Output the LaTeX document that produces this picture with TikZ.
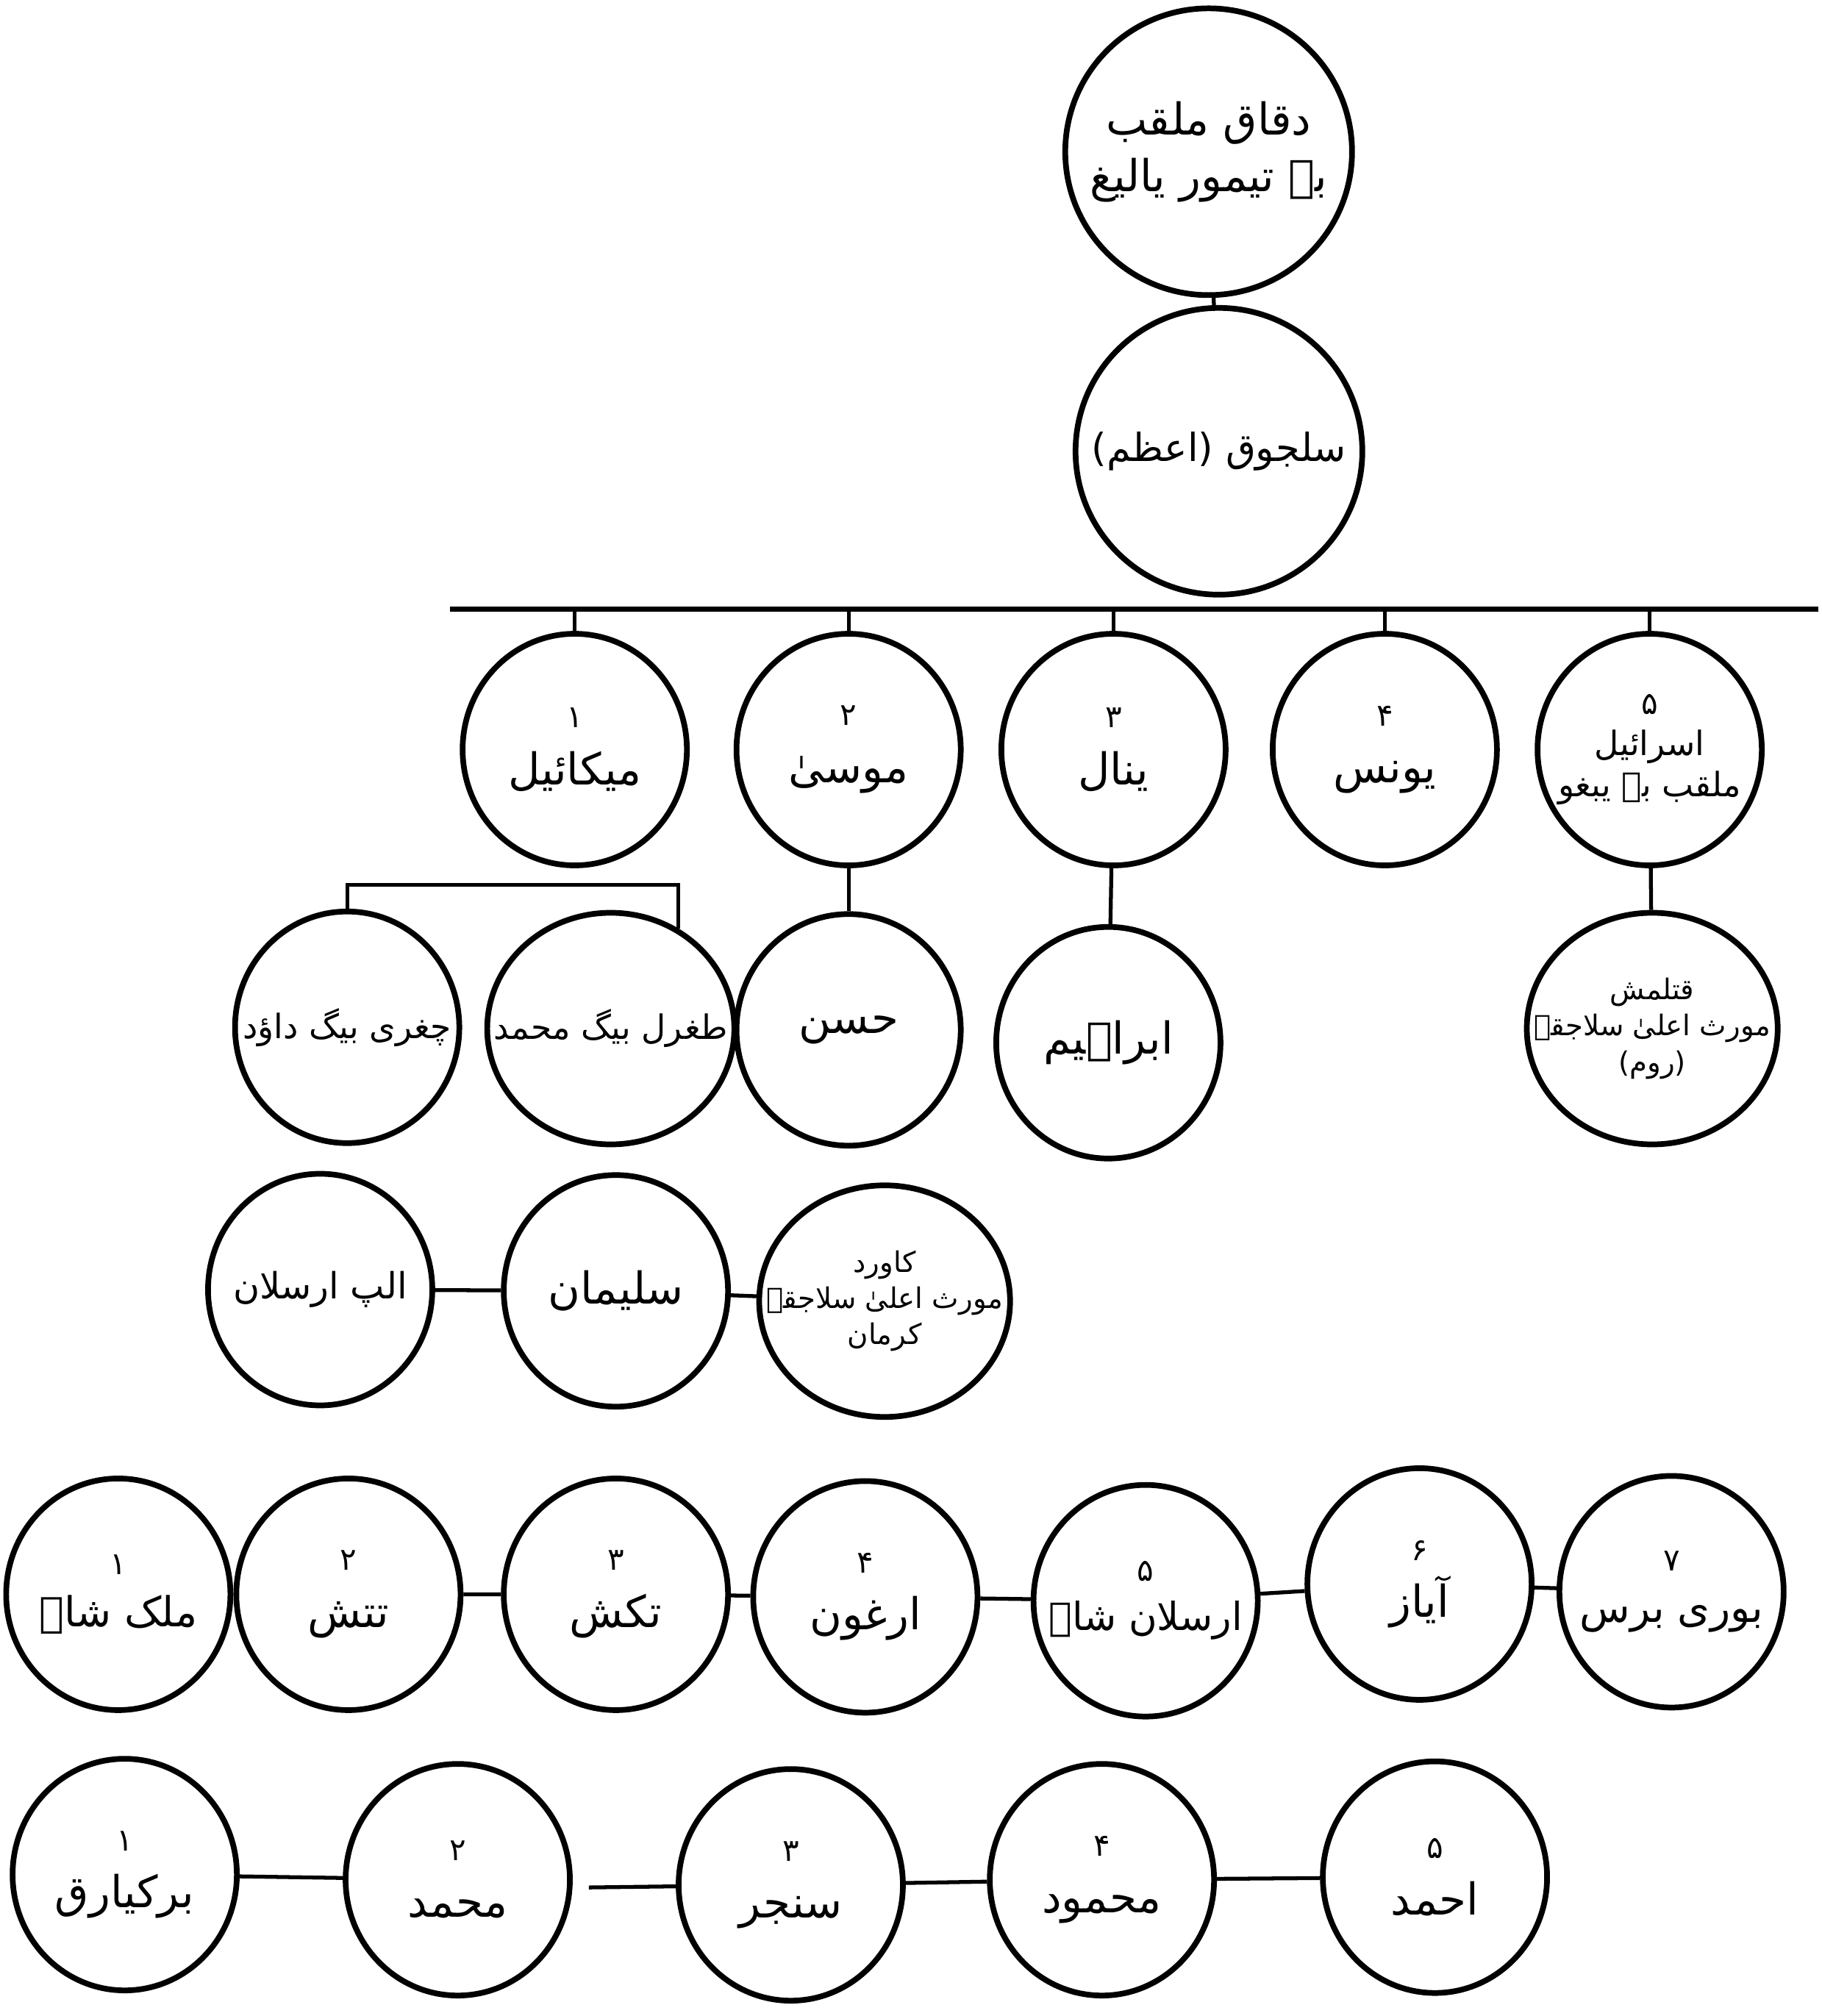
\documentclass[tikz,border=0pt]{standalone}
\usepackage{fontspec}
\newfontfamily\urdufont[Script=Arabic]{DejaVu Sans}
\TeXXeTstate=1
\usetikzlibrary{shapes.geometric}
\newcommand{\ur}[1]{{\urdufont\beginR #1\endR}}
\newcommand{\gnum}[1]{{\fontsize{12}{12}\selectfont\ur{#1}}}

\begin{document}
\begin{tikzpicture}[x=0.01749cm, y=-0.01749cm, thick,
    person/.style={draw, ellipse, line width=2.2pt, minimum width=3.05cm,
      minimum height=3.15cm, inner xsep=-0.4cm, inner ysep=-0.3cm, align=center,
      font=\fontsize{17}{22}\selectfont},
    elder/.style={person, minimum width=3.9cm, minimum height=3.9cm},
    mid/.style={font=\fontsize{14}{18}\selectfont},
    small/.style={font=\fontsize{11}{14}\selectfont},
    link/.style={line width=1.5pt}]
    \useasboundingbox (0,0) rectangle (1417,1568);

    % The two forefathers at the top
    \node[elder] (duqaq) at (940,118) {\ur{دقاق ملقب}\\\ur{بہ تیمور یالیغ}};
    \node[elder, font=\fontsize{15}{18}\selectfont] (seljuq) at (948,351) {\ur{سلجوق (اعظم)}};
    \draw[link] (duqaq) -- (seljuq);

    % The long bar that holds the five sons
    \coordinate (barL) at (350,474);
    \coordinate (barR) at (1414,474);
    \draw[line width=2pt] (barL) -- (barR);

    % The five sons of Seljuq
    \node[person] (mikail) at (447,583) {\gnum{۱}\\\ur{میکائیل}};
    \node[person] (musa) at (660,583) {\gnum{۲}\\\ur{موسیٰ}};
    \node[person] (yinal) at (866,583) {\gnum{۳}\\\ur{ینال}};
    \node[person] (yunus) at (1077,583) {\gnum{۴}\\\ur{یونس}};
    \node[person, font=\fontsize{13}{16}\selectfont] (israil) at (1283,583) {\gnum{۵}\\\ur{اسرائیل}\\\ur{ملقب بہ یبغو}};
    \foreach \s in {mikail, musa, yinal, yunus, israil}
        \draw[link] (\s.north) -- (\s.north |- barL);

    % The grandsons
    \node[person, font=\fontsize{13}{16}\selectfont] (chaghri) at (270,799) {\ur{چغری بیگ داؤد}};
    \node[person, font=\fontsize{13}{16}\selectfont] (tughril) at (475,800) {\ur{طغرل بیگ محمد}};
    \node[person] (hasan) at (660,801) {\ur{حسن}};
    \node[person] (ibrahim) at (862,811) {\ur{ابراہیم}};
    \node[person, small] (qutalmish) at (1285,800) {\ur{قتلمش}\\\ur{مورث اعلیٰ سلاجقہ}\\\ur{(روم)}};

    % Bracket over Chaghri and Tughril
    \coordinate (brk) at (400,688);
    \draw[link] (chaghri.north) |- (brk) -| (tughril.56);
    \draw[link] (musa) -- (hasan);
    \draw[link] (yinal) -- (ibrahim);
    \draw[link] (israil) -- (qutalmish);

    % Sons of Chaghri Beg
    \node[person, mid] (alp) at (249,1003) {\ur{الپ ارسلان}};
    \node[person] (suleiman) at (479,1004) {\ur{سلیمان}};
    \node[person, small] (qavurd) at (688,1012) {\ur{کاورد}\\\ur{مورث اعلیٰ سلاجقہ}\\\ur{کرمان}};
    \draw[link] (alp) -- (suleiman);
    \draw[link] (suleiman) -- (qavurd);

    % Sons of Alp Arslan
    \node[person, font=\fontsize{16}{20}\selectfont] (malik) at (92,1240) {\gnum{۱}\\\ur{ملک شاہ}};
    \node[person] (tutush) at (271,1240) {\gnum{۲}\\\ur{تتش}};
    \node[person] (tekish) at (479,1240) {\gnum{۳}\\\ur{تکش}};
    \node[person] (arghun) at (673,1242) {\gnum{۴}\\\ur{ارغون}};
    \node[person, font=\fontsize{15}{19}\selectfont] (arslan) at (891,1245) {\gnum{۵}\\\ur{ارسلان شاہ}};
    \node[person] (ayaz) at (1104,1232) {\gnum{۶}\\\ur{آیاز}};
    \node[person, font=\fontsize{16}{20}\selectfont] (buri) at (1300,1238) {\gnum{۷}\\\ur{بوری برس}};
    \draw[link] (malik) -- (tutush) -- (tekish) -- (arghun) -- (arslan) -- (ayaz) -- (buri);

    % Sons of Malik Shah
    \node[person] (bark) at (97,1458) {\gnum{۱}\\\ur{برکیارق}};
    \node[person] (muhammad) at (356,1462) {\gnum{۲}\\\ur{محمد}};
    \node[person] (sanjar) at (615,1466) {\gnum{۳}\\\ur{سنجر}};
    \node[person] (mahmud) at (857,1462) {\gnum{۴}\\\ur{محمود}};
    \node[person] (ahmad) at (1116,1460) {\gnum{۵}\\\ur{احمد}};
    \coordinate (gap) at (458,1468);
    \draw[link] (bark) -- (muhammad);
    \draw[link] (gap) -- (sanjar);
    \draw[link] (sanjar) -- (mahmud) -- (ahmad);
\end{tikzpicture}
\end{document}
